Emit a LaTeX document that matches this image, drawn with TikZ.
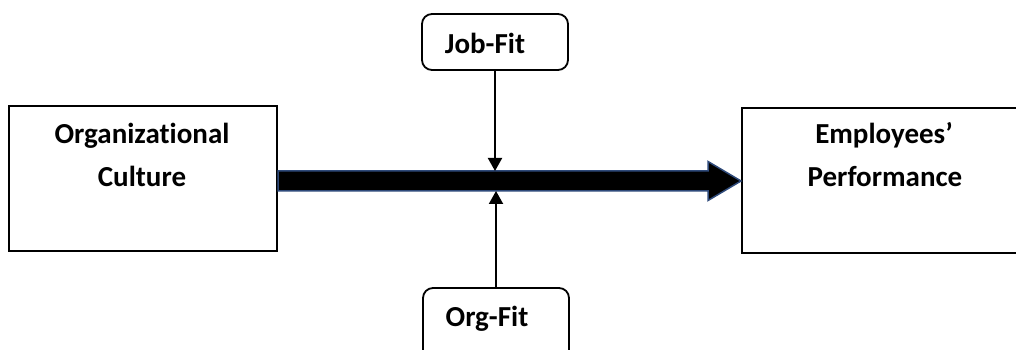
\documentclass[tikz,border=0pt]{standalone}
\usepackage{fontspec}
\setmainfont[Ligatures={NoCommon}]{Carlito}
\usetikzlibrary{arrows.meta,calc}
\definecolor{arrowedge}{HTML}{2F4A7A}
\begin{document}
\begin{tikzpicture}[x=1pt,y=1pt,
  sqbox/.style={draw=black,line width=2pt,fill=white,inner sep=0pt},
  rbox/.style={draw=black,line width=1.8pt,rounded corners=10pt,fill=white,inner sep=0pt,minimum width=146pt},
  lbl/.style={font=\bfseries\fontsize{29}{43}\selectfont,inner sep=0pt,anchor=base},
  conn/.style={line width=2pt,-{Triangle[length=13pt,width=14pt]}},
  bigarrow/.style={fill=black,draw=arrowedge,line width=1.5pt,line join=miter}]
\clip (0,0) rectangle (1016,350);
\fill[white] (0,0) rectangle (1016,350);
\node[sqbox,minimum width=268pt,minimum height=145pt] (oc) at (143,171.5) {};
\node[sqbox,minimum width=284pt,minimum height=145pt] (ep) at (884,169.5) {};
\node[rbox,minimum height=56pt] (jf) at (495,308) {};
\node[rbox,minimum height=72pt] (of) at (496,26) {};
\node[lbl] (oc1) at (142,206) {Organizational};
\node[lbl] (oc2) at (142,163) {Culture};
\node[lbl] (ep1) at (884,206) {Employees’};
\node[lbl] (ep2) at (885,163) {Performance};
\node[lbl] (jft) at (485,296) {Job-Fit};
\node[lbl] (oft) at (487,23) {Org-Fit};
\coordinate (s) at ($(oc.east)+(0,-2.5)$);
\coordinate (t) at (ep.west |- s);
\draw[bigarrow] ($(s)+(0,10)$) -- ($(t)+(-33,10)$) -- ($(t)+(-33,19.5)$) -- (t)
  -- ($(t)+(-33,-19.5)$) -- ($(t)+(-33,-10)$) -- ($(s)+(0,-10)$) -- cycle;
\draw[conn] (jf.south) -- ($(jf.south |- s)+(0,10)$);
\draw[conn] (of.north) -- ($(of.north |- s)+(0,-10)$);
\end{tikzpicture}
\end{document}
